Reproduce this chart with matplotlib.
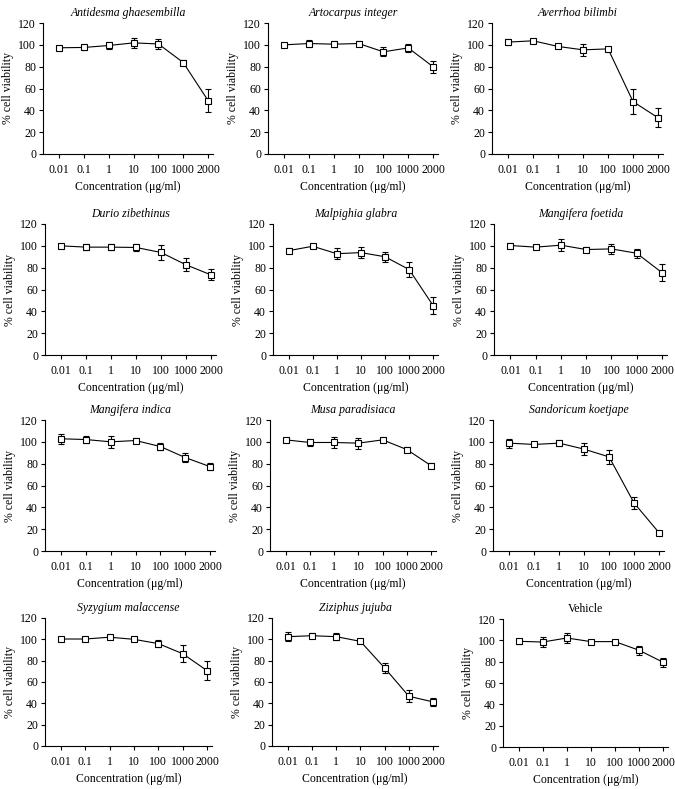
import matplotlib
matplotlib.use("Agg")
import matplotlib.pyplot as plt

plt.rcParams['font.family'] = ['Liberation Serif', 'DejaVu Serif']

concentrations = ["0.01", "0.1", "1", "10", "100", "1000", "2000"]

titles = ["Antidesma ghaesembilla", "Artocarpus integer", "Averrhoa bilimbi",
          "Durio zibethinus", "Malpighia glabra", "Mangifera foetida",
          "Mangifera indica", "Musa paradisiaca", "Sandoricum koetjape",
          "Syzygium malaccense", "Ziziphus jujuba", "Vehicle"]

antidesma_mean = [97.3, 97.6, 99.4, 101.8, 100.8, 83.8, 49.0]
antidesma_err = [1.0, 2.0, 3.5, 4.8, 4.7, 2.0, 10.5]
artocarpus_mean = [100.0, 101.2, 100.6, 101.2, 93.6, 97.2, 80.0]
artocarpus_err = [2.0, 3.0, 2.5, 2.5, 4.0, 3.5, 5.5]
averrhoa_mean = [102.5, 103.7, 98.5, 95.4, 96.3, 48.0, 33.2]
averrhoa_err = [3.0, 1.5, 1.5, 5.5, 2.0, 11.5, 8.5]
durio_mean = [100.0, 98.8, 98.8, 98.5, 93.9, 82.6, 73.4]
durio_err = [2.0, 2.5, 3.0, 3.0, 6.5, 6.0, 5.0]
malpighia_mean = [95.6, 99.6, 92.8, 93.8, 90.0, 78.3, 45.2]
malpighia_err = [2.5, 1.5, 5.0, 5.0, 4.5, 6.5, 7.5]
foetida_mean = [100.3, 98.8, 100.6, 96.6, 97.2, 93.2, 75.5]
foetida_err = [2.5, 2.0, 5.5, 2.5, 4.5, 4.0, 7.5]
indica_mean = [102.8, 102.1, 100.0, 101.2, 95.7, 85.6, 77.3]
indica_err = [4.5, 3.5, 5.5, 2.5, 3.5, 4.0, 3.0]
musa_mean = [101.8, 99.4, 99.4, 98.8, 101.8, 92.9, 78.1]
musa_err = [1.5, 3.0, 5.0, 5.0, 1.5, 2.5, 2.5]
sandoricum_mean = [98.8, 97.6, 98.8, 93.3, 86.2, 44.0, 16.8]
sandoricum_err = [4.0, 1.0, 2.5, 5.5, 6.5, 5.5, 1.5]
syzygium_mean = [100.3, 100.3, 102.0, 100.0, 96.0, 86.5, 70.6]
syzygium_err = [0.5, 2.0, 1.0, 1.0, 3.5, 8.0, 9.0]
ziziphus_mean = [102.5, 103.4, 102.5, 98.1, 73.1, 46.6, 41.3]
ziziphus_err = [4.0, 2.5, 3.5, 2.0, 5.0, 5.5, 4.0]
vehicle_mean = [99.1, 98.4, 102.2, 98.8, 98.8, 90.7, 79.4]
vehicle_err = [2.5, 4.5, 4.5, 1.5, 1.5, 4.0, 4.0]

means = [antidesma_mean, artocarpus_mean, averrhoa_mean, durio_mean,
         malpighia_mean, foetida_mean, indica_mean, musa_mean,
         sandoricum_mean, syzygium_mean, ziziphus_mean, vehicle_mean]
errs = [antidesma_err, artocarpus_err, averrhoa_err, durio_err,
        malpighia_err, foetida_err, indica_err, musa_err,
        sandoricum_err, syzygium_err, ziziphus_err, vehicle_err]

yticks = [0, 20, 40, 60, 80, 100, 120]

W, H = 675, 789
fig = plt.figure(figsize=(W / 100, H / 100), dpi=100)

# pixel boxes: (left, right, top(120), bottom(0))
boxes = [
    (43, 213, 23, 154), (268, 438, 23, 154), (492, 663, 23, 154),
    (45, 216, 224, 355), (273, 438, 224, 355), (494, 667, 224, 355),
    (45, 215, 420, 551), (270, 436, 420, 551), (493, 664, 420, 551),
    (45, 212, 618, 746), (272, 438, 618, 746), (503, 668, 619, 747),
]

x = list(range(len(concentrations)))
for i, (l, r, t, b) in enumerate(boxes):
    ax = fig.add_axes([l / W, 1 - b / H, (r - l) / W, (b - t) / H])
    ax.errorbar(x, means[i], yerr=errs[i], color='black', lw=0.8,
                marker='s', ms=4.5, mfc='white', mec='black', mew=0.8,
                ecolor='black', elinewidth=0.8, capsize=2.2, capthick=0.8)
    ax.set_ylim(0, 120)
    ax.set_xlim(-0.65, 6.2)
    ax.set_yticks(yticks)
    ax.set_xticks(x)
    ax.set_xticklabels(concentrations)
    for s in ['top', 'right']:
        ax.spines[s].set_visible(False)
    for s in ['left', 'bottom']:
        ax.spines[s].set_linewidth(0.8)
    ax.tick_params(axis='both', direction='out', length=3, width=0.8,
                   labelsize=8.5, pad=2)
    ax.tick_params(axis='x', pad=4)
    ax.set_ylabel('% cell viability', fontsize=8.5, labelpad=3)
    ax.set_xlabel('Concentration (μg/ml)', fontsize=8.5, labelpad=4)
    style = 'normal' if titles[i] == 'Vehicle' else 'italic'
    ax.set_title(titles[i], fontsize=8.5, style=style, pad=5)

fig.savefig('out.png', dpi=100)
